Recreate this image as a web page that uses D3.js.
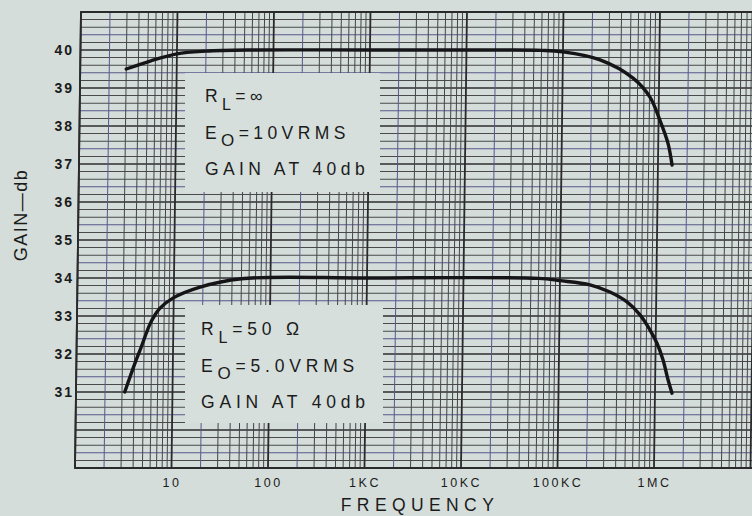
<!DOCTYPE html>
<html>
<head>
<meta charset="utf-8">
<script src="https://cdn.jsdelivr.net/npm/d3@7"></script>
<style>
  body { margin: 0; background: #d4ddd9; }
  svg { display: block; }
  text { font-family: "Liberation Sans", Arial, sans-serif; fill: #1b1b1b; }
</style>
</head>
<body>
<div class="chart"></div>
<script>

// frequency (Hz) and gain (db)
var freqInf = [3.0, 5.3, 10, 20, 57, 1000, 22000, 60000, 100000, 243000, 537000, 809000, 1030000, 1260000, 1400000];
var gainInf = [39.5, 39.71, 39.9, 39.97, 40.0, 40.0, 40.0, 39.99, 39.95, 39.74, 39.26, 38.76, 38.16, 37.55, 36.97];

var freq50 = [3.2, 4.05, 4.55, 5.7, 6.4, 7.2, 9.8, 18.7, 50, 1000, 60000, 100000, 205000, 331000, 498000, 683000, 871000, 1030000, 1200000, 1360000, 1500000];
var gain50 = [31.0, 31.76, 32.1, 32.78, 33.02, 33.2, 33.47, 33.76, 33.98, 34.0, 33.99, 33.93, 33.82, 33.63, 33.37, 33.03, 32.63, 32.29, 31.84, 31.32, 30.97];

var xTickValues = [10, 100, 1000, 10000, 100000, 1000000];
var xTickLabels = ["10", "100", "1KC", "10KC", "100KC", "1MC"];
var yTickValues = [31, 32, 33, 34, 35, 36, 37, 38, 39, 40];

var width = 752;
var height = 516;

var xScale = d3.scaleLog()
  .domain([1, 1e7])
  .range([75, 750.5]);

var yScale = d3.scaleLinear()
  .domain([29, 41])
  .range([468, 12]);

var paper = "#d4ddd9";

var svg = d3.select(".chart").append("svg")
  .attr("width", width)
  .attr("height", height);

svg.append("rect")
  .attr("width", width)
  .attr("height", height)
  .attr("fill", paper);

// the scanned graph paper leans a little, so shear the plot around its bottom edge
var plot = svg.append("g")
  .attr("transform", "translate(0,468) skewX(-0.75) translate(0,-468)");

// log grid lines: 1..9 in every decade
var vLines = [];
for (var d = 0; d < 7; d++) {
  for (var k = 1; k < 10; k++) vLines.push(k * Math.pow(10, d));
}
vLines.push(1e7);

// 0.2 db grid lines
var hLines = d3.range(0, 61).map(i => 29 + i * 0.2);

plot.selectAll(".hgrid")
  .data(hLines)
  .enter()
  .append("line")
  .attr("class", "hgrid")
  .attr("x1", xScale(1))
  .attr("x2", 770)
  .attr("y1", d => yScale(d))
  .attr("y2", d => yScale(d))
  .attr("stroke", (d, i) => (i % 5 == 0) ? "#2e2e30" : (i % 5 == 2) ? "#5a568c" : "#4a4a4c")
  .attr("stroke-width", (d, i) => (i % 5 == 0) ? 1.5 : 1);

plot.selectAll(".vgrid")
  .data(vLines)
  .enter()
  .append("line")
  .attr("class", "vgrid")
  .attr("x1", d => xScale(d))
  .attr("x2", d => xScale(d))
  .attr("y1", yScale(41))
  .attr("y2", yScale(29))
  .attr("stroke", (d, i) => (i % 9 == 0) ? "#2a2a2c" : (i % 9 == 1) ? "#5a568c" : "#454547")
  .attr("stroke-width", (d, i) => (i % 9 == 0) ? 1.8 : 1);

// frame: top, left, bottom
plot.append("path")
  .attr("d", "M770," + yScale(41) + "H" + xScale(1) + "V" + yScale(29) + "H770")
  .attr("fill", "none")
  .attr("stroke", "#2a2a2c")
  .attr("stroke-width", 1.8);

// blank patches behind the notes
var boxes = [
  {x: 185, y: 73, w: 195, h: 119},
  {x: 185, y: 305, w: 198, h: 118}
];
svg.selectAll(".notebox")
  .data(boxes)
  .enter()
  .append("rect")
  .attr("class", "notebox")
  .attr("x", d => d.x)
  .attr("y", d => d.y)
  .attr("width", d => d.w)
  .attr("height", d => d.h)
  .attr("fill", "#d6dfdb");

// the two response curves
var line = d3.line()
  .x(d => xScale(d[0]))
  .y(d => yScale(d[1]))
  .curve(d3.curveCatmullRom.alpha(0.5));

[d3.zip(freqInf, gainInf), d3.zip(freq50, gain50)].forEach(function(pts) {
  plot.append("path")
    .datum(pts)
    .attr("d", line)
    .attr("fill", "none")
    .attr("stroke", "#151517")
    .attr("stroke-width", 3.4)
    .attr("stroke-linecap", "round");
});

// notes
function note(x, y, ls, rest1, rest2) {
  var g = svg.append("g").attr("transform", "translate(" + x + "," + y + ")");
  var t1 = g.append("text").attr("y", 0).style("font-size", "17.5px").style("letter-spacing", ls + "px");
  t1.append("tspan").text("R");
  t1.append("tspan").attr("dy", 8).style("font-size", "16px").text("L");
  t1.append("tspan").attr("dy", -8).text(rest1);

  var t2 = g.append("text").attr("y", 37).style("font-size", "17.5px").style("letter-spacing", ls + "px");
  t2.append("tspan").text("E");
  t2.append("tspan").attr("dy", 7).style("font-size", "17px").text("O");
  t2.append("tspan").attr("dy", -7).text(rest2);

  g.append("text").attr("y", 73).style("font-size", "17.5px").style("letter-spacing", ls + "px")
    .text("GAIN AT 40db");
}
note(205, 102, 4.4, "=\u221E", "=10VRMS");
note(201, 335, 4.8, "=50 \u03A9", "=5.0VRMS");

// x axis labels
var xAxis = svg.append("g")
  .attr("transform", "translate(0,468)")
  .call(d3.axisBottom(xScale)
    .tickValues(xTickValues)
    .tickFormat((d, i) => xTickLabels[i])
    .tickSize(0)
    .tickPadding(10));
xAxis.select(".domain").remove();
xAxis.selectAll("text")
  .style("font-size", "12.5px")
  .style("letter-spacing", "2.5px")
  .style("font-family", "'Liberation Sans', Arial, sans-serif")
  .attr("fill", "#1b1b1b");

// y axis labels
var yAxis = svg.append("g")
  .attr("transform", "translate(75,0)")
  .call(d3.axisLeft(yScale)
    .tickValues(yTickValues)
    .tickSize(0)
    .tickPadding(1));
yAxis.select(".domain").remove();
yAxis.selectAll("text")
  .style("font-size", "14px")
  .style("font-weight", "bold")
  .style("letter-spacing", "2px")
  .style("font-family", "'Liberation Sans', Arial, sans-serif")
  .attr("fill", "#1b1b1b");

// axis titles
svg.append("text")
  .attr("transform", "translate(27,215) rotate(-90)")
  .attr("text-anchor", "middle")
  .style("font-size", "18px")
  .style("letter-spacing", "1.5px")
  .text("GAIN\u2014db");

svg.append("text")
  .attr("x", 420)
  .attr("y", 511)
  .attr("text-anchor", "middle")
  .style("font-size", "17.5px")
  .style("letter-spacing", "5.4px")
  .text("FREQUENCY");

</script>
</body>
</html>
